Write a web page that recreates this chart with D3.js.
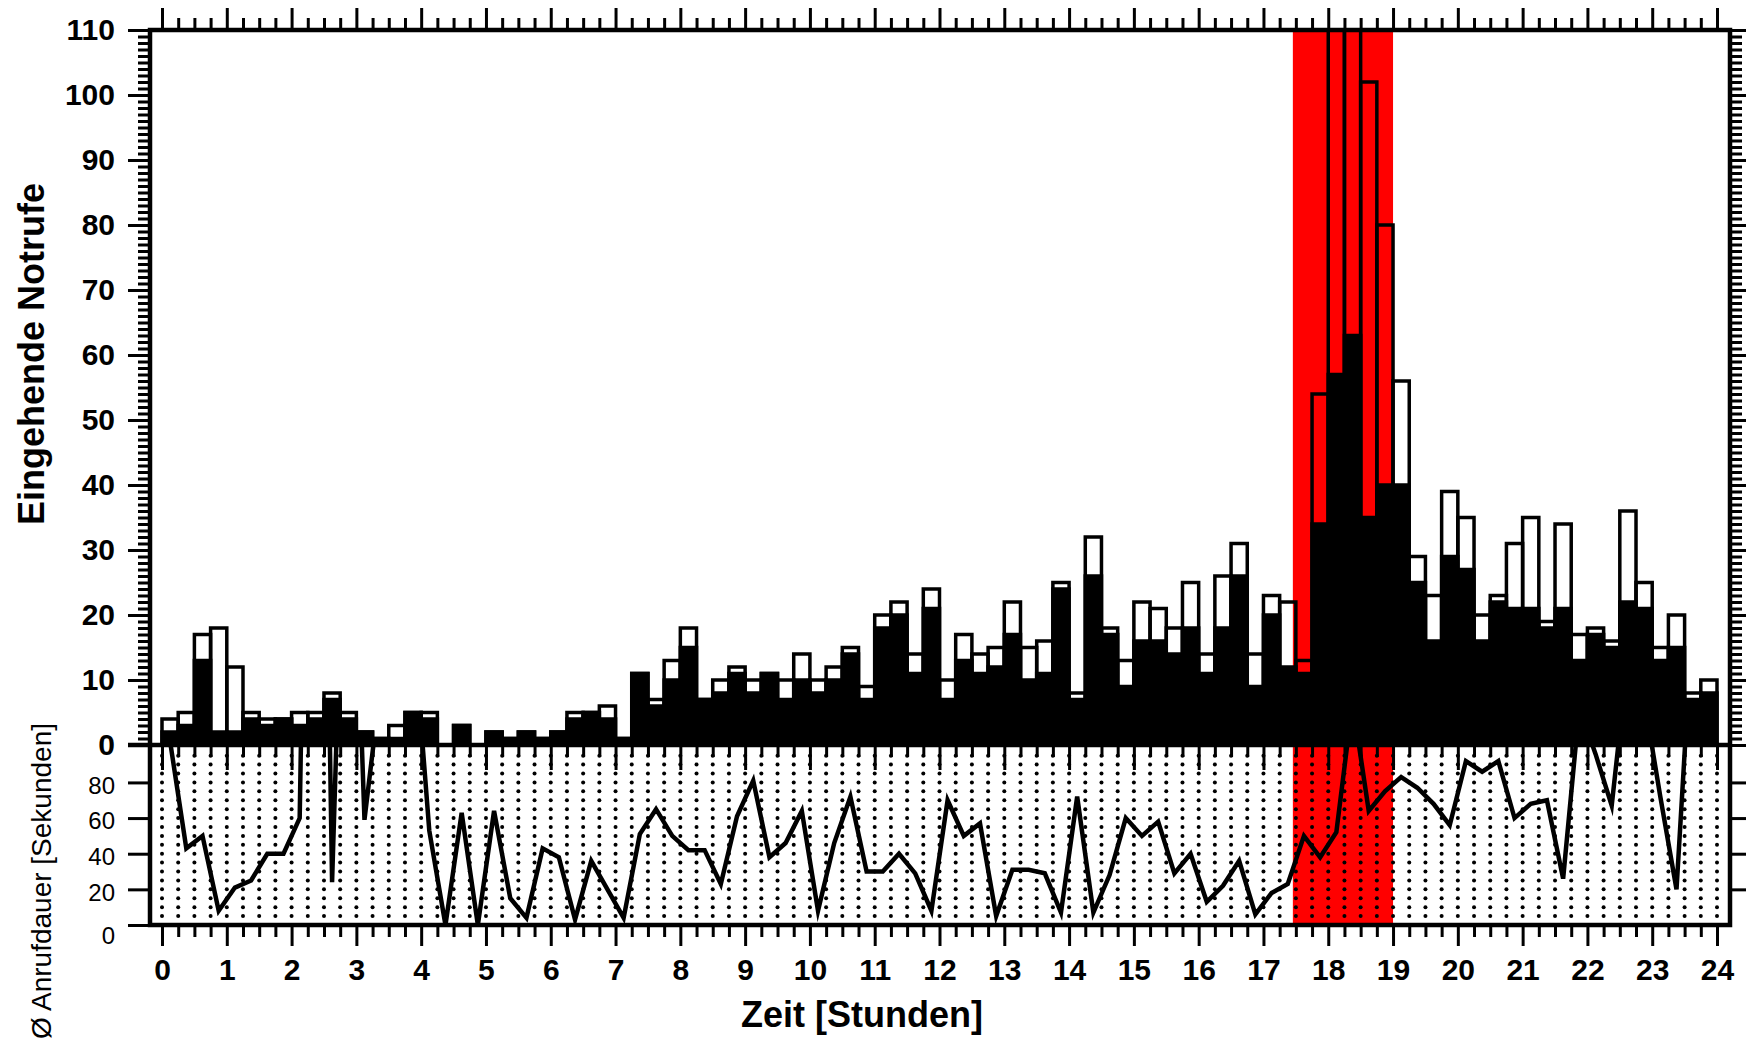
<!DOCTYPE html>
<html>
<head>
<meta charset="utf-8">
<script src="https://cdnjs.cloudflare.com/ajax/libs/d3/7.8.5/d3.min.js"></script>
<style>
body { margin: 0; background: #fff; }
svg { display: block; font-family: "Liberation Sans", Arial, sans-serif; }
.tk line { stroke: #000; stroke-width: 3; }
.tk path { display: none; }
</style>
</head>
<body>
<script>
// quarter-hour slots 0:00 .. 23:45
var slotStart = d3.range(0, 24, 0.25);

// incoming calls per slot (outline bars)
var callsTotal = [
  4, 5, 17, 18, 12, 5, 4, 4, 5, 5, 8, 5, 2, 1, 3, 5,
  5, 0, 3, 0, 2, 1, 2, 1, 2, 5, 5, 6, 1, 11, 7, 13,
  18, 7, 10, 12, 10, 11, 10, 14, 10, 12, 15, 9, 20, 22, 14, 24,
  10, 17, 14, 15, 22, 15, 16, 25, 8, 32, 18, 13, 22, 21, 18, 25,
  14, 26, 31, 14, 23, 22, 13, 54, 125, 140, 102, 80, 56, 29, 23, 39,
  35, 20, 23, 31, 35, 19, 34, 17, 18, 16, 36, 25, 15, 20, 8, 10
];
// part of them shown filled black
var callsFilled = [
  2, 3, 13, 2, 2, 4, 3, 4, 3, 4, 7, 4, 2, 1, 1, 5,
  4, 0, 3, 0, 2, 1, 2, 1, 2, 4, 5, 4, 1, 11, 6, 10,
  15, 7, 8, 11, 8, 11, 7, 10, 8, 10, 14, 7, 18, 20, 11, 21,
  7, 13, 11, 12, 17, 10, 11, 24, 7, 26, 17, 9, 16, 16, 14, 18,
  11, 18, 26, 9, 20, 12, 11, 34, 57, 63, 35, 40, 40, 25, 16, 29,
  27, 16, 22, 21, 21, 18, 21, 13, 17, 15, 22, 21, 13, 15, 7, 8
];
// average call duration per slot [s]
var avgDuration = [
  103, 43, 50, 8, 21, 25, 40, 40, 60, 600, 24, 320, 59, 135, 150, 170,
  53, 0, 63, 0, 64, 15, 4, 43, 38, 3, 36, 20, 4, 51, 65, 50,
  42, 42, 23, 61, 81, 38, 46, 64, 8, 46, 72, 30, 30, 40, 29, 8,
  70, 50, 57, 5, 31, 31, 29, 7, 72, 7, 28, 60, 50, 58, 29, 40,
  13, 22, 36, 6, 18, 23, 50, 38, 52, 125, 64, 75, 83, 77, 68, 56,
  92, 86, 92, 60, 68, 70, 26, 122, 96, 67, 150, 127, 72, 20, 173, 200
];

var hourTicks = d3.range(0, 25);
var quarterTicks = d3.range(0, 24.01, 0.25).filter(function(d) { return d % 1 !== 0; });
var countTicks = [0, 10, 20, 30, 40, 50, 60, 70, 80, 90, 100, 110];
var countMinor = d3.range(0, 111);
var durationTicks = [0, 20, 40, 60, 80];
var alarmFrom = 17.5, alarmTo = 19;

var W = 1746, H = 1045;
var pLeft = 150, pRight = 1730, pTop = 30, pMid = 745, pBottom = 925;

var x = d3.scaleLinear().domain([0, 24]).range([162, 1717]);
var yC = d3.scaleLinear().domain([0, 110]).range([pMid, pTop]);
var yD = d3.scaleLinear().domain([0, 101]).range([pBottom, pMid]);

var svg = d3.select("body").append("svg")
    .attr("width", W)
    .attr("height", H);

var defs = svg.append("defs");
defs.append("clipPath").attr("id", "clipTop")
  .append("rect").attr("x", pLeft).attr("y", pTop).attr("width", pRight - pLeft).attr("height", pMid - pTop);
defs.append("clipPath").attr("id", "clipBot")
  .append("rect").attr("x", pLeft).attr("y", pMid).attr("width", pRight - pLeft).attr("height", pBottom - pMid);

// red highlight
svg.append("rect")
  .attr("x", x(alarmFrom) - 3)
  .attr("y", pTop)
  .attr("width", x(alarmTo) - x(alarmFrom) + 3)
  .attr("height", pBottom - pTop)
  .attr("fill", "#ff0000");

// dotted grid in the lower panel
var dotCols = d3.range(0, 24.01, 0.25);
var dotRows = d3.range(5, 100, 5);
var dots = [];
dotCols.forEach(function(c) { dotRows.forEach(function(r) { dots.push([c, r]); }); });
svg.append("g").selectAll("circle")
  .data(dots)
  .enter()
  .append("circle")
  .attr("cx", function(d) { return x(d[0]); })
  .attr("cy", function(d) { return yD(d[1]); })
  .attr("r", 2)
  .attr("fill", "#000");

// bars
var bars = svg.append("g").attr("clip-path", "url(#clipTop)");
bars.selectAll("rect.fill")
  .data(callsFilled)
  .enter()
  .append("rect")
  .attr("class", "fill")
  .attr("x", function(d, i) { return x(slotStart[i]); })
  .attr("width", function(d, i) { return x(slotStart[i] + 0.25) - x(slotStart[i]); })
  .attr("y", function(d) { return yC(d); })
  .attr("height", function(d) { return yC(0) - yC(d); })
  .attr("fill", "#000")
  .attr("stroke", "#000")
  .attr("stroke-width", 3.5);

bars.selectAll("rect.total")
  .data(callsTotal)
  .enter()
  .append("rect")
  .attr("class", "total")
  .attr("x", function(d, i) { return x(slotStart[i]); })
  .attr("width", function(d, i) { return x(slotStart[i] + 0.25) - x(slotStart[i]); })
  .attr("y", function(d) { return yC(d); })
  .attr("height", function(d) { return yC(0) - yC(d); })
  .attr("fill", "none")
  .attr("stroke", "#000")
  .attr("stroke-width", 3.5);

// duration line
var line = d3.line()
  .x(function(d, i) { return x(slotStart[i] + 0.125); })
  .y(function(d) { return yD(d); });

svg.append("g").attr("clip-path", "url(#clipBot)")
  .append("path")
  .datum(avgDuration)
  .attr("d", line)
  .attr("fill", "none")
  .attr("stroke", "#000")
  .attr("stroke-width", 4.5)
  .attr("stroke-linejoin", "miter")
  .attr("stroke-miterlimit", 6);

// ticks
function ticks(axis, tx, ty) {
  return svg.append("g").attr("class", "tk").attr("transform", "translate(" + tx + "," + ty + ")").call(axis);
}
ticks(d3.axisTop(x).tickValues(hourTicks).tickSize(22).tickFormat(""), 0, pTop);
ticks(d3.axisTop(x).tickValues(quarterTicks).tickSize(12).tickFormat(""), 0, pTop);
ticks(d3.axisBottom(x).tickValues(hourTicks).tickSize(25).tickFormat(""), 0, pMid);
ticks(d3.axisBottom(x).tickValues(quarterTicks).tickSize(12).tickFormat(""), 0, pMid);
ticks(d3.axisBottom(x).tickValues(quarterTicks).tickSize(12).tickFormat(""), 0, pBottom);

var xb = ticks(d3.axisBottom(x).tickValues(hourTicks).tickSize(21).tickPadding(13), 0, pBottom);
xb.selectAll("text").attr("font-size", 30).attr("font-weight", "bold").attr("fill", "#000")
  .attr("font-family", "Liberation Sans, Arial, sans-serif");

ticks(d3.axisLeft(yC).tickValues(countMinor).tickSize(12).tickFormat(""), pLeft, 0);
var yl = ticks(d3.axisLeft(yC).tickValues(countTicks).tickSize(22).tickPadding(13), pLeft, 0);
yl.selectAll("text").attr("font-size", 30).attr("font-weight", "bold").attr("fill", "#000")
  .attr("font-family", "Liberation Sans, Arial, sans-serif");

ticks(d3.axisRight(yC).tickValues(countMinor).tickSize(12).tickFormat(""), pRight, 0);
ticks(d3.axisRight(yC).tickValues(countTicks).tickSize(22).tickFormat(""), pRight, 0);

var yd = ticks(d3.axisLeft(yD).tickValues(durationTicks).tickSize(22).tickPadding(13), pLeft, 0);
yd.selectAll("text").attr("font-size", 24).attr("fill", "#000")
  .attr("font-family", "Liberation Sans, Arial, sans-serif")
  .attr("dy", function(d) { return d === 0 ? "0.75em" : "0.45em"; });
ticks(d3.axisRight(yD).tickValues(durationTicks.slice(1)).tickSize(22).tickFormat(""), pRight, 0);

// frame
var frame = svg.append("g").attr("stroke", "#000").attr("stroke-width", 4.5).attr("fill", "none");
frame.append("rect").attr("x", pLeft).attr("y", pTop).attr("width", pRight - pLeft).attr("height", pBottom - pTop);
frame.append("line").attr("x1", pLeft - 22).attr("x2", pRight).attr("y1", pMid).attr("y2", pMid);

// titles
svg.append("text")
  .attr("transform", "translate(31,354) rotate(-90)")
  .attr("text-anchor", "middle")
  .attr("dy", "0.35em")
  .attr("font-size", 36)
  .attr("font-weight", "bold")
  .text("Eingehende Notrufe");

svg.append("text")
  .attr("transform", "translate(41,881) rotate(-90)")
  .attr("text-anchor", "middle")
  .attr("dy", "0.35em")
  .attr("font-size", 28)
  .text("\u00d8 Anrufdauer [Sekunden]");

svg.append("text")
  .attr("x", 862)
  .attr("y", 1027)
  .attr("text-anchor", "middle")
  .attr("font-size", 36)
  .attr("font-weight", "bold")
  .text("Zeit [Stunden]");
</script>
</body>
</html>
